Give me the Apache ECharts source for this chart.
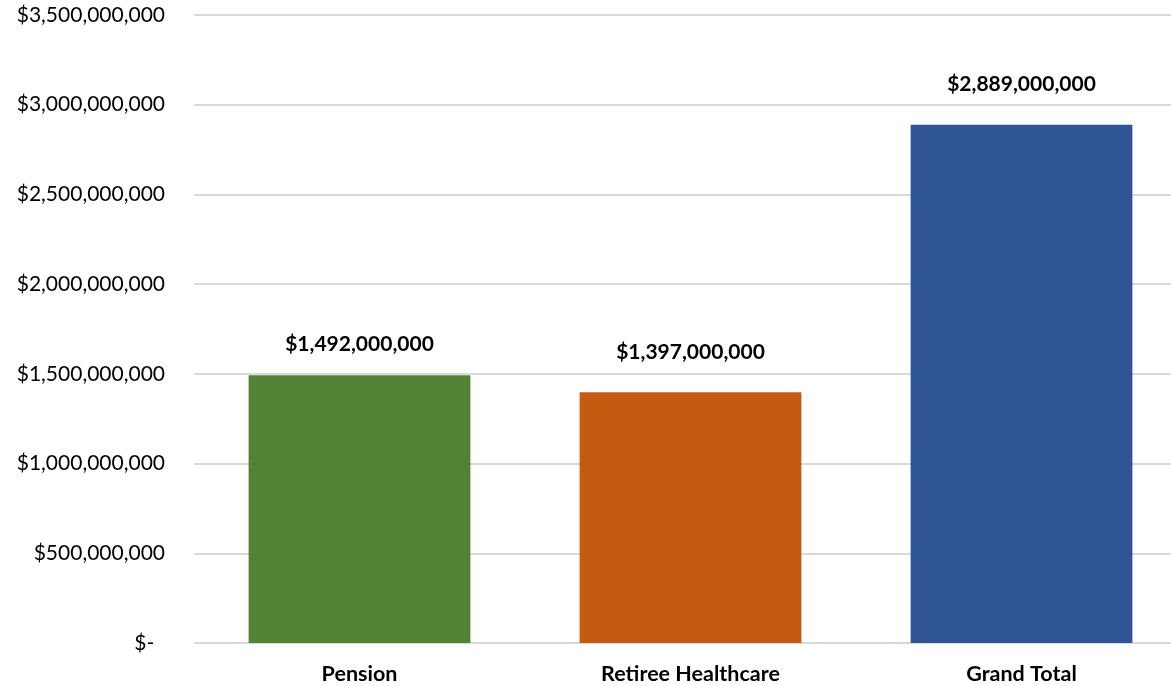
<!DOCTYPE html>
<html><head><meta charset="utf-8">
<style>html,body{margin:0;padding:0;background:#fff}#c{width:1171px;height:686px}</style>
<script src="https://cdn.jsdelivr.net/npm/echarts@6/dist/echarts.min.js"></script>
</head><body><div id="c"></div>
<script>
const categories = ['Pension', 'Retiree Healthcare', 'Grand Total'];
const values = [1492000000, 1397000000, 2889000000];
const colors = ['#548235', '#C55A11', '#2F5597'];
const labelDistances = [21, 30, 30];
const yMin = 0, yMax = 3500000000, yInterval = 500000000;

const fmt = v => '$' + v.toLocaleString('en-US');
const chart = echarts.init(document.getElementById('c'));
chart.setOption({
  animation: false,
  grid: {left: 194, width: 993, top: 15, height: 628, containLabel: false, outerBoundsMode: 'none'},
  xAxis: {
    type: 'category', data: categories,
    axisLine: {show: false}, axisTick: {show: false},
    axisLabel: {fontFamily: 'Lato', fontWeight: 'bold', fontSize: 21.5, color: '#000', margin: 20}
  },
  yAxis: {
    type: 'value', min: yMin, max: yMax, interval: yInterval,
    axisLine: {show: false}, axisTick: {show: false},
    splitLine: {lineStyle: {color: '#d9d9d9', width: 2}},
    axisLabel: {fontFamily: 'Lato', fontSize: 21, color: '#000', margin: 29,
      formatter: v => v === 0 ? '$-  ' : fmt(v)}
  },
  series: [{
    type: 'bar', barWidth: '67%',
    data: values.map((v, i) => ({value: v, itemStyle: {color: colors[i]},
      label: {distance: labelDistances[i]}})),
    label: {show: true, position: 'top', fontFamily: 'Lato', fontWeight: 'bold',
      fontSize: 21, color: '#000', formatter: p => fmt(p.value)}
  }]
});
</script></body></html>
